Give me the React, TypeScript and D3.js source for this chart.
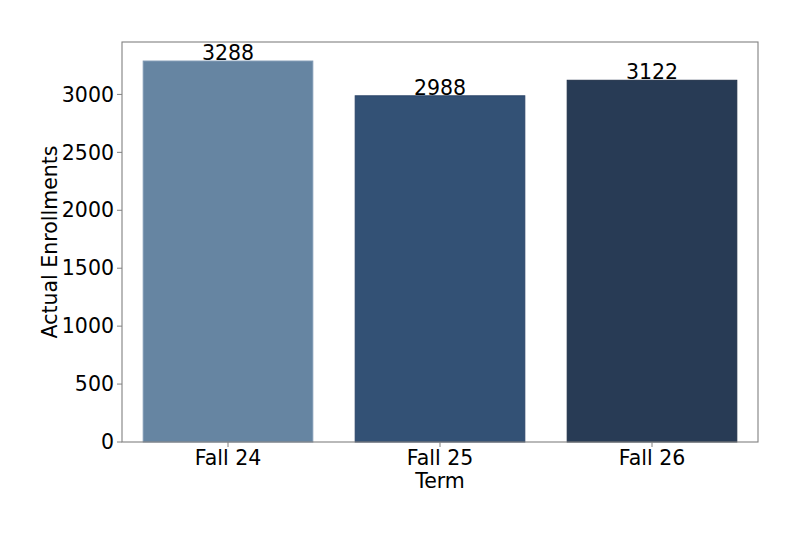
import React from 'react'
import * as d3 from 'd3'

const terms = ['Fall 24', 'Fall 25', 'Fall 26']
const enrollments = [3288, 2988, 3122]
const barColors = ['#6685a2', '#335175', '#283b55']
const edgeColors = ['#7e98b2', '#2a4468', '#1f3048']
const yTicks = [0, 500, 1000, 1500, 2000, 2500, 3000]

const width = 800
const height = 533
const margin = { top: 42, right: 42, bottom: 91, left: 122 }
const font = 'DejaVu Sans, sans-serif'
const fs = 20.5

const App = () => {
    const innerW = width - margin.left - margin.right
    const innerH = height - margin.top - margin.bottom
    const x = d3.scaleBand().domain(terms).range([0, innerW]).paddingInner(0.2).paddingOuter(0.1)
    const y = d3.scaleLinear().domain([0, d3.max(enrollments) * 1.05]).range([innerH, 0])

    return (
        <svg width={width} height={height} style={{ display: 'block', position: 'absolute', left: 0, top: 0 }}>
            <rect width={width} height={height} fill='#ffffff' />
            <g transform={`translate(${margin.left}, ${margin.top})`}>
                {terms.map((term, i) => (
                    <g key={term}>
                        <rect
                            x={x(term)}
                            y={y(enrollments[i])}
                            width={x.bandwidth()}
                            height={innerH - y(enrollments[i])}
                            fill={barColors[i]}
                            stroke={edgeColors[i]}
                            strokeWidth={1}
                        />
                        <text
                            x={x(term) + x.bandwidth() / 2}
                            y={y(enrollments[i])}
                            dy='-0.05em'
                            textAnchor='middle'
                            fontFamily={font}
                            fontSize={fs}
                            fill='#000'
                        >
                            {enrollments[i]}
                        </text>
                    </g>
                ))}
                <rect x={0} y={0} width={innerW} height={innerH} fill='none' stroke='#808080' strokeWidth={1.1} />
                {yTicks.map((t) => (
                    <g key={t} transform={`translate(0, ${y(t)})`}>
                        <line x1={-5} x2={0} stroke='#808080' strokeWidth={1} />
                        <text x={-8} dy='0.35em' textAnchor='end' fontFamily={font} fontSize={fs} fill='#000'>
                            {t}
                        </text>
                    </g>
                ))}
                {terms.map((term) => (
                    <g key={term} transform={`translate(${x(term) + x.bandwidth() / 2}, ${innerH})`}>
                        <line y1={0} y2={5} stroke='#808080' strokeWidth={1} />
                        <text y={7} dy='0.76em' textAnchor='middle' fontFamily={font} fontSize={fs} fill='#000'>
                            {term}
                        </text>
                    </g>
                ))}
                <text
                    x={innerW / 2}
                    y={innerH + 30}
                    dy='0.76em'
                    textAnchor='middle'
                    fontFamily={font}
                    fontSize={fs}
                    fill='#000'
                >
                    Term
                </text>
                <text
                    transform={`translate(${-65}, ${innerH / 2}) rotate(-90)`}
                    textAnchor='middle'
                    fontFamily={font}
                    fontSize={fs}
                    fill='#000'
                >
                    Actual Enrollments
                </text>
            </g>
        </svg>
    )
}

export default App
